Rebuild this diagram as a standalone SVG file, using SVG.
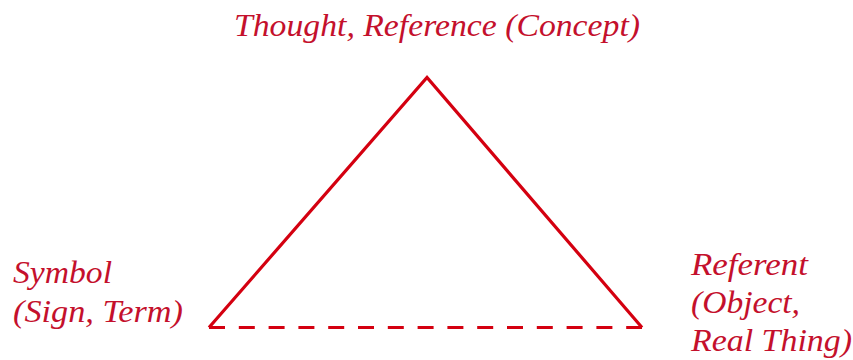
<svg xmlns="http://www.w3.org/2000/svg" width="853" height="360" viewBox="0 0 853 360">
<style>
.lbl{font-family:"Liberation Serif","Times New Roman",serif;font-style:italic;font-size:32px;fill:#c4102c}
.edge{fill:none;stroke:#d40010;stroke-width:3.2}
</style>
<rect width="853" height="360" fill="#fff"/>
<g id="connectors">
<polyline class="edge" points="209,327.5 427,77.5 642,327.5" stroke-linejoin="miter"/>
<line class="edge" x1="209" y1="327.5" x2="642" y2="327.5" stroke-dasharray="16 13.8"/>
</g>
<g id="node-thought">
<text class="lbl" x="234" y="36" textLength="406" lengthAdjust="spacingAndGlyphs">Thought, Reference (Concept)</text>
</g>
<g id="node-symbol">
<text class="lbl" x="13" y="283" textLength="99" lengthAdjust="spacingAndGlyphs">Symbol</text>
<text class="lbl" x="13" y="322" textLength="170" lengthAdjust="spacingAndGlyphs">(Sign, Term)</text>
</g>
<g id="node-referent">
<text class="lbl" x="691" y="275" textLength="117" lengthAdjust="spacingAndGlyphs">Referent</text>
<text class="lbl" x="691" y="313" textLength="109" lengthAdjust="spacingAndGlyphs">(Object,</text>
<text class="lbl" x="691" y="351" textLength="161" lengthAdjust="spacingAndGlyphs">Real Thing)</text>
</g>
</svg>
